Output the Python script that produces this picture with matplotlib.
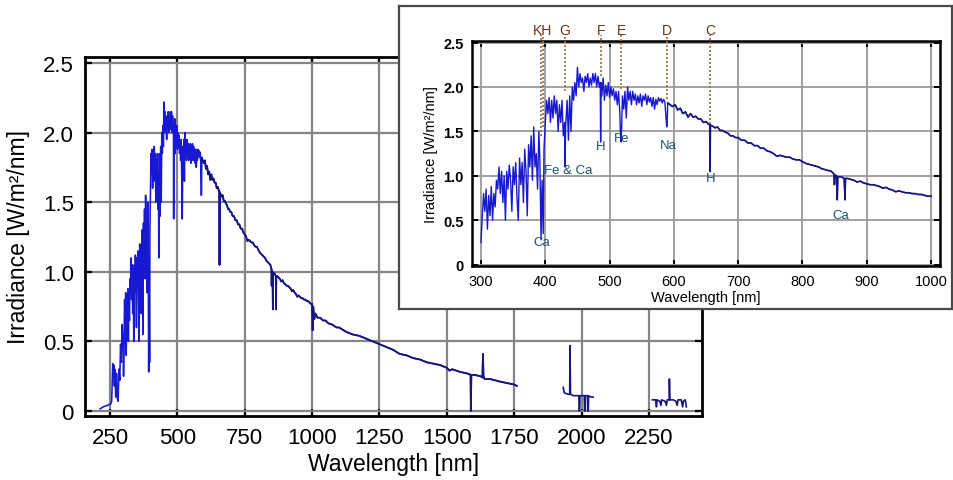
import matplotlib
matplotlib.use("Agg")
import matplotlib.pyplot as plt
import numpy as np

plt.rcParams['font.family'] = ['Liberation Sans', 'DejaVu Sans']

# ---------------- data ----------------
# continuous part of the spectrum, 213-1760 nm
wl_main = [213, 225, 240, 252, 256, 258, 260, 262, 264, 266, 268, 271, 274, 277, 280, 283, 286, 289,
           292, 295, 297, 299, 300, 302, 304, 306, 308, 310, 312, 314, 316, 318, 320, 322, 324, 326,
           328, 330, 332, 334, 336, 338, 340, 342, 344, 346, 348, 350, 352, 354, 356, 358, 360, 362,
           364, 366, 368, 370, 372, 374, 376, 378, 380, 382, 384, 386, 388, 390, 391.5, 393.4, 395,
           396.8, 398, 400, 402, 404, 406, 408, 410, 412, 414, 416, 418, 420, 422, 424, 426, 428, 430,
           430.8, 431.6, 434, 436, 438, 440, 442, 444, 446, 448, 450, 452, 454, 456, 458, 460, 462,
           464, 466, 468, 470, 472, 474, 476, 478, 480, 482, 484, 485.5, 486.1, 486.8, 488, 490, 492,
           494, 496, 498, 500, 502, 504, 506, 508, 510, 512, 514, 516, 517, 518, 519, 520, 522, 524,
           526, 528, 530, 532, 534, 536, 538, 540, 542, 544, 546, 548, 550, 552, 554, 556, 558, 560,
           562, 564, 566, 568, 570, 572, 574, 576, 578, 580, 582, 584, 586, 588.9, 589.6, 590.5, 594,
           598, 602, 606, 610, 614, 618, 622, 626, 630, 634, 638, 642, 646, 650, 654, 655.8, 656.3,
           656.9, 660, 664, 668, 672, 676, 680, 684, 688, 692, 696, 700, 705, 710, 715, 720, 725, 730,
           735, 740, 745, 750, 755, 760, 765, 770, 775, 780, 785, 790, 795, 800, 805, 810, 815, 820,
           825, 830, 835, 840, 845, 849, 849.8, 850.6, 853, 854.2, 855, 860, 865, 866.2, 867, 870,
           875, 880, 885, 890, 895, 900, 905, 910, 915, 920, 925, 930, 935, 940, 945, 950, 955, 960,
           965, 970, 975, 980, 985, 990, 995, 1000, 1002, 1004, 1008, 1012, 1020, 1030, 1040, 1050,
           1060, 1075, 1090, 1100, 1125, 1150, 1175, 1200, 1225, 1250, 1275, 1300, 1325, 1350, 1375,
           1400, 1425, 1450, 1475, 1500, 1510, 1520, 1550, 1575, 1588, 1589, 1591, 1600, 1625, 1632,
           1634, 1636, 1640, 1660, 1680, 1700, 1725, 1750, 1760]
irr_main = [0.015, 0.03, 0.04, 0.05, 0.07, 0.20, 0.34, 0.25, 0.33, 0.18, 0.30, 0.10, 0.27, 0.09, 0.07,
            0.30, 0.22, 0.48, 0.35, 0.62, 0.45, 0.55, 0.25, 0.55, 0.80, 0.60, 0.85, 0.40, 0.78, 0.55,
            0.88, 0.50, 0.80, 0.65, 0.95, 0.85, 1.10, 0.80, 1.05, 0.70, 1.00, 0.50, 1.05, 0.85, 1.12,
            0.95, 0.60, 1.10, 0.90, 1.15, 0.75, 0.50, 1.20, 0.90, 1.15, 0.70, 1.30, 1.05, 0.55, 1.35,
            1.10, 1.45, 0.95, 1.55, 1.10, 1.25, 0.85, 1.50, 1.20, 0.28, 0.95, 0.35, 1.30, 1.60, 1.85,
            1.70, 1.88, 1.60, 1.85, 1.65, 1.90, 1.70, 1.85, 1.50, 1.80, 1.60, 1.85, 1.45, 1.60, 1.10,
            1.55, 1.85, 1.40, 1.90, 1.50, 2.00, 1.85, 2.05, 1.90, 2.22, 2.00, 2.15, 2.05, 2.10, 1.95,
            2.12, 2.05, 2.15, 2.00, 2.10, 2.02, 2.15, 2.05, 2.15, 2.00, 2.12, 2.00, 2.05, 1.38, 2.05,
            1.90, 2.10, 1.85, 2.02, 1.90, 2.05, 1.88, 2.00, 1.90, 1.98, 1.85, 1.95, 1.80, 1.95, 1.70,
            1.45, 1.38, 1.60, 1.90, 1.75, 1.95, 1.65, 2.00, 1.85, 1.95, 1.80, 1.95, 1.85, 1.92, 1.80,
            1.90, 1.82, 1.92, 1.78, 1.90, 1.85, 1.92, 1.80, 1.90, 1.83, 1.88, 1.78, 1.88, 1.75, 1.86,
            1.80, 1.88, 1.84, 1.87, 1.82, 1.86, 1.83, 1.55, 1.60, 1.82, 1.80, 1.78, 1.80, 1.74, 1.76,
            1.70, 1.72, 1.66, 1.70, 1.66, 1.67, 1.64, 1.64, 1.60, 1.61, 1.58, 1.58, 1.05, 1.57, 1.56,
            1.54, 1.55, 1.51, 1.51, 1.49, 1.48, 1.45, 1.45, 1.43, 1.43, 1.40, 1.40, 1.37, 1.37, 1.34,
            1.34, 1.31, 1.31, 1.28, 1.27, 1.25, 1.22, 1.23, 1.22, 1.21, 1.21, 1.19, 1.18, 1.18, 1.16,
            1.14, 1.13, 1.12, 1.11, 1.10, 1.08, 1.07, 1.06, 1.05, 1.02, 0.90, 1.01, 1.00, 0.73, 0.99,
            0.99, 0.97, 0.73, 0.97, 0.97, 0.96, 0.95, 0.93, 0.94, 0.92, 0.91, 0.90, 0.90, 0.89, 0.88,
            0.86, 0.87, 0.85, 0.84, 0.82, 0.83, 0.82, 0.81, 0.81, 0.80, 0.80, 0.79, 0.79, 0.78, 0.77,
            0.77, 0.58, 0.75, 0.66, 0.70, 0.67, 0.67, 0.65, 0.65, 0.63, 0.62, 0.60, 0.60, 0.57, 0.55,
            0.54, 0.52, 0.50, 0.48, 0.46, 0.44, 0.41, 0.40, 0.38, 0.37, 0.35, 0.34, 0.33, 0.31, 0.29,
            0.30, 0.28, 0.27, 0.26, 0.0, 0.26, 0.26, 0.25, 0.24, 0.41, 0.25, 0.23, 0.23, 0.22, 0.21,
            0.20, 0.19, 0.18]

# second measured band
wl_band2 = [1932, 1936, 1950, 1956, 1957, 1959, 1970, 1985, 1990, 1991, 1993, 1994, 2005, 2010, 2011,
            2013, 2014, 2022, 2023, 2025, 2026, 2035, 2043]
irr_band2 = [0.17, 0.13, 0.12, 0.12, 0.47, 0.12, 0.11, 0.11, 0.11, 0.0, 0.0, 0.11, 0.11, 0.11, 0.0,
             0.0, 0.11, 0.11, 0.0, 0.0, 0.11, 0.10, 0.10]

# third measured band
wl_band3 = [2263, 2275, 2278, 2280, 2290, 2295, 2297, 2310, 2315, 2318, 2325, 2326, 2328, 2340, 2350,
            2355, 2358, 2370, 2375, 2378, 2385, 2389]
irr_band3 = [0.08, 0.08, 0.03, 0.08, 0.07, 0.04, 0.08, 0.07, 0.04, 0.08, 0.08, 0.23, 0.08, 0.08, 0.07,
             0.04, 0.08, 0.08, 0.03, 0.07, 0.08, 0.03]

main_xticks = [250, 500, 750, 1000, 1250, 1500, 1750, 2000, 2250]
inset_xticks = [300, 400, 500, 600, 700, 800, 900, 1000]
yticks = [0, 0.5, 1.0, 1.5, 2.0, 2.5]
ytick_labels = ['0', '0.5', '1.0', '1.5', '2.0', '2.5']

# Fraunhofer lines
fraun_labels = ['KH', 'G', 'F', 'E', 'D', 'C']
fraun_label_nm = [395, 430, 487, 518, 589, 656]
fraun_line_nm = [393.4, 396.8, 430.8, 486.1, 518, 589, 656.3]
fraun_line_bottom = [1.45, 1.55, 1.95, 2.12, 1.98, 1.86, 1.58]

# element annotations
elem_labels = ['Ca', 'Fe & Ca', 'H', 'Fe', 'Na', 'H', 'Ca']
elem_nm = [395, 435, 486, 518, 592, 657, 859]
elem_y = [0.25, 1.06, 1.33, 1.42, 1.35, 0.97, 0.56]

# ---------------- drawing ----------------
W, H = 954, 481
fig = plt.figure(figsize=(W / 100, H / 100), dpi=100)

blue = '#1818d2'
navy = '#15157e'

wl_arr = np.array(wl_main)
irr_arr = np.array(irr_main)
tail = wl_arr >= 590


def style_axes(ax, spine_lw, grid_col, grid_lw, tick_len, tick_w):
    for s in ax.spines.values():
        s.set_linewidth(spine_lw)
        s.set_color('black')
    ax.grid(True, color=grid_col, linewidth=grid_lw, zorder=0)
    ax.set_axisbelow(True)
    ax.tick_params(direction='in', top=True, right=True, length=tick_len, width=tick_w,
                   colors='black')


# main axes
ax = fig.add_axes([85 / W, 1 - 417 / H, 617 / W, 359 / H])
ax.plot(wl_arr, irr_arr, color=blue, lw=1.15, zorder=3)
ax.plot(wl_arr[tail], irr_arr[tail], color=navy, lw=1.3, zorder=4)
ax.plot(wl_band2, irr_band2, color=navy, lw=1.2, zorder=3)
ax.plot(wl_band3, irr_band3, color=navy, lw=1.2, zorder=3)
ax.set_xlim(157, 2447)
ax.set_ylim(-0.036, 2.543)
ax.set_xticks(main_xticks)
ax.set_yticks(yticks)
ax.set_yticklabels(ytick_labels)
style_axes(ax, 2.0, '#858585', 1.6, 5, 1.6)
ax.tick_params(labelsize=16, pad=8)
ax.set_xlabel('Wavelength [nm]', fontsize=16.5, labelpad=3)
ax.set_ylabel('Irradiance [W/m²/nm]', fontsize=16.5, labelpad=9)

# white framed box behind the inset
box = fig.add_axes([399 / W, 1 - 310 / H, 553 / W, 303 / H])
box.set_xticks([])
box.set_yticks([])
box.set_facecolor('white')
for s in box.spines.values():
    s.set_linewidth(1.6)
    s.set_color('#4a4a4a')

# inset axes (300-1000 nm portion of the same spectrum)
vis = (wl_arr >= 300) & (wl_arr <= 1000)
vis_tail = vis & tail
ins = fig.add_axes([472 / W, 1 - 267 / H, 468 / W, 225 / H])
ins.plot(wl_arr[vis], irr_arr[vis], color=blue, lw=1.0, zorder=3)
ins.plot(wl_arr[vis_tail], irr_arr[vis_tail], color=navy, lw=1.15, zorder=4)
ins.set_xlim(286, 1014)
ins.set_ylim(-0.015, 2.517)
ins.set_xticks(inset_xticks)
ins.set_yticks(yticks)
ins.set_yticklabels(ytick_labels, fontweight='bold')
style_axes(ins, 1.8, '#9a9a9a', 1.3, 4, 1.4)
ins.tick_params(labelsize=10.5, pad=6)
ins.set_xlabel('Wavelength [nm]', fontsize=10.5, labelpad=1)
ins.set_ylabel('Irradiance [W/m²/nm]', fontsize=10.5, labelpad=4)

# Fraunhofer dotted lines and letters
ins.vlines(fraun_line_nm, fraun_line_bottom, 2.58, colors='#a86a3a', linestyles=(0, (1.2, 1.2)),
           lw=1.2, clip_on=False, zorder=5)
for lab, x in zip(fraun_labels, fraun_label_nm):
    ins.text(x, 2.64, lab, ha='center', va='center', fontsize=10, color='#6a3415',
             clip_on=False)

# element annotations
for lab, x, y in zip(elem_labels, elem_nm, elem_y):
    ins.text(x, y, lab, ha='center', va='center', fontsize=9.5, color='#1e5468', zorder=6)

fig.savefig('out.png', dpi=100)
